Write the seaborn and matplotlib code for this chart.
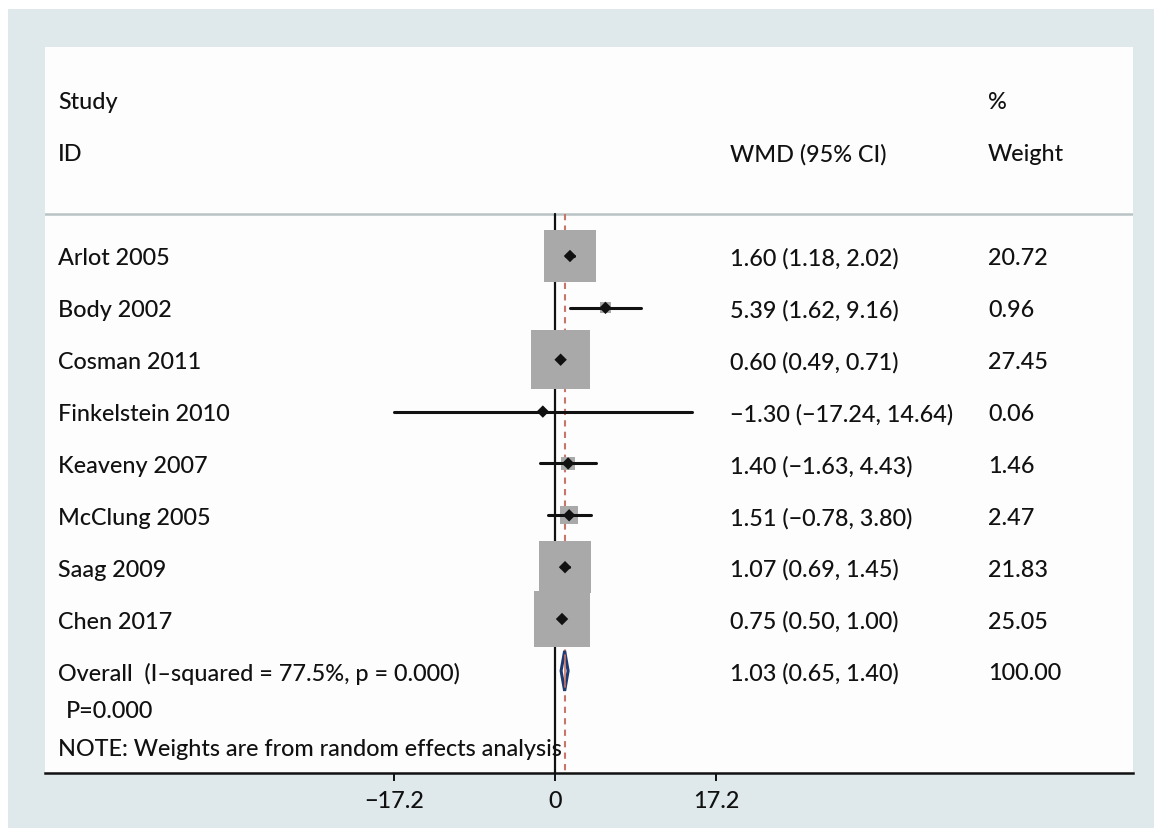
import numpy as np
import pandas as pd
import matplotlib
matplotlib.use("Agg")
import matplotlib.pyplot as plt
import seaborn as sns
from matplotlib.patches import Rectangle, Polygon
import matplotlib.transforms as mtransforms

# ---- data ----
studies = ["Arlot 2005", "Body 2002", "Cosman 2011", "Finkelstein 2010",
           "Keaveny 2007", "McClung 2005", "Saag 2009", "Chen 2017"]
wmd = [1.60, 5.39, 0.60, -1.30, 1.40, 1.51, 1.07, 0.75]
ci_low = [1.18, 1.62, 0.49, -17.24, -1.63, -0.78, 0.69, 0.50]
ci_high = [2.02, 9.16, 0.71, 14.64, 4.43, 3.80, 1.45, 1.00]
weights = [20.72, 0.96, 27.45, 0.06, 1.46, 2.47, 21.83, 25.05]
overall_est, overall_low, overall_high = 1.03, 0.65, 1.40
overall_label = "Overall  (I\u2013squared = 77.5%, p = 0.000)"
overall_weight = "100.00"
xticks = [-17.2, 0, 17.2]
xtick_labels = ["\u221217.2", "0", "17.2"]

def fmt(v):
    s = f"{v:.2f}"
    return s.replace("-", "\u2212")

ci_text = [f"{fmt(e)} ({fmt(l)}, {fmt(h)})" for e, l, h in zip(wmd, ci_low, ci_high)]
overall_ci = f"{fmt(overall_est)} ({fmt(overall_low)}, {fmt(overall_high)})"

sns.set_style("white")
plt.rcParams['font.family'] = ['Lato', 'DejaVu Sans']
TXT = "#111111"
FS = 16.8
FW = "medium"

W, H = 1154, 829
fig = plt.figure(figsize=(W / 100, H / 100), dpi=100, facecolor="white")
# light background frame
fig.patches.append(Rectangle((8 / W, 0), 1 - 8 / W, 1 - 10 / H, transform=fig.transFigure,
                             facecolor="#dfe8ea", edgecolor="none", zorder=-10))

left_px, right_px, top_px, bot_px = 45, 1133, 48, 774
ax = fig.add_axes([left_px / W, 1 - bot_px / H, (right_px - left_px) / W, (bot_px - top_px) / H])
ax.set_facecolor("#fdfdfe")

px_per_unit = 161 / 17.2
x0_px = 555
ax.set_xlim((left_px - x0_px) / px_per_unit, (right_px - x0_px) / px_per_unit)
row_px = 51.86
row0_px = 257
ax.set_ylim((bot_px - row0_px) / row_px, (top_px - row0_px) / row_px)

rows = np.arange(len(studies))
overall_row = len(studies)
header_row = (215 - row0_px) / row_px
bottom_row = (bot_px - row0_px) / row_px

df = pd.DataFrame({"study": studies, "wmd": wmd, "lo": ci_low, "hi": ci_high,
                   "w": weights, "row": rows})

# reference lines
ax.plot([0, 0], [header_row, bottom_row], color="#111111", lw=1.6, zorder=2)
ax.plot([overall_est, overall_est], [header_row, bottom_row], color="#c9766a",
        lw=1.5, ls=(0, (3, 2.5)), zorder=2)
# header separator
ax.axhline(header_row, color="#b9c3c6", lw=1.8, zorder=1)

# weight boxes (side proportional to sqrt(weight))
side_px = 11.26 * np.sqrt(df["w"].to_numpy())
side_pt = side_px * 72 / 100
df["s"] = side_pt ** 2
sns.scatterplot(data=df, x="wmd", y="row", size="s", sizes=(df["s"].min(), df["s"].max()),
                marker="s", color="#a9a9a9", edgecolor="none", linewidth=0,
                legend=False, ax=ax, zorder=3)
# CI lines
for _, r in df.iterrows():
    ax.plot([r["lo"], r["hi"]], [r["row"], r["row"]], color="#111111", lw=2.2, zorder=4)
# point estimates
sns.scatterplot(data=df, x="wmd", y="row", marker="D", s=40, color="#111111",
                edgecolor="none", legend=False, ax=ax, zorder=5)

# overall diamond
dh = 20 / row_px
diamond = Polygon([(overall_low, overall_row), (overall_est, overall_row - dh),
                   (overall_high, overall_row), (overall_est, overall_row + dh)],
                  closed=True, facecolor="white", edgecolor="#1f3a70", lw=2.2, zorder=4)
ax.add_patch(diamond)
ax.plot([overall_est, overall_est], [overall_row - dh * 0.8, overall_row + dh * 0.8],
        color="#c9766a", lw=1.2, zorder=5)

# texts
trans = mtransforms.blended_transform_factory(ax.transAxes, ax.transData)
def ax_x(px):
    return (px - left_px) / (right_px - left_px)

xs_name, xs_ci, xs_w = ax_x(58), ax_x(730), ax_x(988)
kw = dict(transform=trans, va="center_baseline", fontsize=FS, color=TXT, fontweight=FW)
ax.text(xs_name, (101 - row0_px) / row_px, "Study", **kw)
ax.text(xs_name, (153 - row0_px) / row_px, "ID", **kw)
ax.text(xs_ci, (153 - row0_px) / row_px, "WMD (95% CI)", **kw)
ax.text(xs_w, (101 - row0_px) / row_px, "%", **kw)
ax.text(xs_w, (153 - row0_px) / row_px, "Weight", **kw)

for r, name, ct, w in zip(rows, studies, ci_text, weights):
    ax.text(xs_name, r, name, **kw)
    ax.text(xs_ci, r, ct, **kw)
    ax.text(xs_w, r, f"{w:.2f}", **kw)

ax.text(xs_name, overall_row, overall_label, **kw)
ax.text(xs_ci, overall_row, overall_ci, **kw)
ax.text(xs_w, overall_row, overall_weight, **kw)
ax.text(ax_x(66), (710 - row0_px) / row_px, "P=0.000", **kw)
ax.text(xs_name, (748 - row0_px) / row_px, "NOTE: Weights are from random effects analysis", **kw)

# axes styling
for sp in ["top", "left", "right"]:
    ax.spines[sp].set_visible(False)
ax.spines["bottom"].set_color("#111111")
ax.spines["bottom"].set_linewidth(1.8)
ax.set_yticks([])
ax.set_xticks(xticks)
ax.set_xticklabels(xtick_labels, fontsize=FS, color=TXT, fontweight=FW)
ax.tick_params(axis="x", direction="out", length=6, width=1.4, color="#111111", pad=6, bottom=True)
ax.set_xlabel("")
ax.set_ylabel("")

fig.savefig("out.png", dpi=100, facecolor="white")
